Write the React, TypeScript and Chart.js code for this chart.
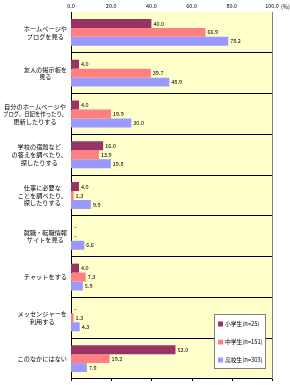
import React, { useEffect, useRef } from "react";
import { Chart, registerables } from "chart.js";
Chart.register(...registerables);

const categories: string[][] = [
  ["ホームページや", "ブログを見る"],
  ["友人の掲示板を", "見る"],
  ["自分のホームページや", "ブログ、日記を作ったり、", "更新したりする"],
  ["学校の宿題など", "の答えを調べたり、", "探したりする"],
  ["仕事に必要な", "ことを調べたり、", "探したりする"],
  ["就職・転職情報", "サイトを見る"],
  ["チャットをする"],
  ["メッセンジャーを", "利用する"],
  ["このなかにはない"],
];
const elementary: (number | null)[] = [40.0, 4.0, 4.0, 16.0, 4.0, null, 4.0, null, 52.0];
const juniorHigh: (number | null)[] = [66.9, 39.7, 19.9, 13.9, 1.3, null, 7.3, 1.3, 19.2];
const highSchool: (number | null)[] = [78.2, 48.9, 30.0, 19.8, 9.9, 6.6, 5.9, 4.3, 7.9];
const seriesNames = ["小学生(n=25)", "中学生(n=151)", "高校生(n=303)"];
const seriesColors = ["#993366", "#FF8080", "#9999FF"];
const xTicks = [0, 20, 40, 60, 80, 100];
const unitLabel = "(%)";

const FONT = '"Noto Sans CJK JP", "Noto Sans", sans-serif';

const decorPlugin = {
  id: "decor",
  beforeDraw(chart: any) {
    const { ctx, chartArea } = chart;
    ctx.save();
    ctx.fillStyle = "#FFFFCC";
    ctx.fillRect(chartArea.left, chartArea.top, chartArea.right - chartArea.left, chartArea.bottom - chartArea.top);
    ctx.restore();
  },
  afterDraw(chart: any) {
    const { ctx, chartArea } = chart;
    const xs = chart.scales.x;
    const ys = chart.scales.y;
    ctx.save();
    // right border
    ctx.strokeStyle = "#808080";
    ctx.lineWidth = 1;
    ctx.beginPath();
    ctx.moveTo(Math.round(chartArea.right) + 0.5, chartArea.top);
    ctx.lineTo(Math.round(chartArea.right) + 0.5, chartArea.bottom);
    ctx.stroke();
    // bottom ticks
    ctx.strokeStyle = "#000";
    xTicks.forEach((v) => {
      const px = Math.round(xs.getPixelForValue(v)) + 0.5;
      ctx.beginPath();
      ctx.moveTo(px, chartArea.bottom);
      ctx.lineTo(px, chartArea.bottom + 2);
      ctx.stroke();
    });
    // top tick labels
    ctx.fillStyle = "#000";
    ctx.font = `5.5px ${FONT}`;
    ctx.textAlign = "center";
    ctx.textBaseline = "middle";
    xTicks.forEach((v) => {
      ctx.fillText(v.toFixed(1), xs.getPixelForValue(v), 6);
    });
    // unit label
    ctx.textAlign = "left";
    ctx.fillText(unitLabel, xs.getPixelForValue(xTicks[xTicks.length - 1]) + 9, 7);

    // value labels
    ctx.font = `5.5px ${FONT}`;
    chart.data.datasets.forEach((ds: any, di: number) => {
      const meta = chart.getDatasetMeta(di);
      meta.data.forEach((bar: any, i: number) => {
        const v = ds.data[i];
        if (v === null || v === undefined) {
          ctx.fillText("–", xs.getPixelForValue(0) + 3, bar.y);
        } else {
          ctx.fillText(v.toFixed(1), bar.x + 2, bar.y);
        }
      });
    });

    // y category labels
    ctx.font = `6.2px ${FONT}`;
    ctx.textAlign = "center";
    const lh = 7.6;
    const maxAllowed = chartArea.left - 7;
    categories.forEach((lines, i) => {
      const cy = ys.getPixelForValue(i);
      const maxW = Math.min(maxAllowed, Math.max(...lines.map((l) => ctx.measureText(l).width)));
      const cx = chartArea.left - 4 - maxW / 2;
      const y0 = cy - ((lines.length - 1) * lh) / 2;
      lines.forEach((l, k) => ctx.fillText(l, cx, y0 + k * lh, maxAllowed));
    });

    // legend
    const bw = 51, bh = 54;
    const bx = chartArea.right - 7 - bw;
    const by = chartArea.bottom - 11 - bh;
    ctx.fillStyle = "#FFFFFF";
    ctx.fillRect(bx, by, bw, bh);
    ctx.strokeStyle = "#808080";
    ctx.strokeRect(Math.round(bx) + 0.5, Math.round(by) + 0.5, bw, bh);
    ctx.font = `5.8px ${FONT}`;
    ctx.textAlign = "left";
    seriesNames.forEach((name, k) => {
      const iy = by + 10 + k * 18;
      ctx.fillStyle = seriesColors[k];
      ctx.fillRect(bx + 4, iy - 2.5, 5, 5);
      ctx.fillStyle = "#000";
      ctx.fillText(name, bx + 11, iy, bw - 13);
    });
    ctx.restore();
  },
};

export default function App() {
  const ref = useRef<HTMLCanvasElement>(null);
  useEffect(() => {
    document.body.style.margin = "0";
    const chart = new Chart(ref.current as HTMLCanvasElement, {
      type: "bar",
      data: {
        labels: categories.map((c) => c.join("")),
        datasets: [
          { label: seriesNames[0], data: elementary, backgroundColor: seriesColors[0] },
          { label: seriesNames[1], data: juniorHigh, backgroundColor: seriesColors[1] },
          { label: seriesNames[2], data: highSchool, backgroundColor: seriesColors[2] },
        ],
      },
      options: {
        indexAxis: "y",
        animation: false,
        responsive: false,
        devicePixelRatio: 1,
        layout: { padding: { left: 0, right: 18, top: 0, bottom: 6 } },
        plugins: { legend: { display: false }, tooltip: { enabled: false } },
        datasets: { bar: { categoryPercentage: 0.66, barPercentage: 1.0 } },
        scales: {
          x: {
            position: "top",
            min: xTicks[0],
            max: xTicks[xTicks.length - 1],
            grid: { display: false },
            border: { display: false },
            ticks: { display: false },
            afterFit: (s: any) => {
              s.height = 12;
            },
          },
          y: {
            grid: {
              display: true,
              offset: true,
              drawTicks: false,
              color: (c: any) => (c.index === 0 ? "rgba(0,0,0,0)" : "#000"),
              lineWidth: 1,
            },
            border: { display: true, color: "#000", width: 1 },
            ticks: { display: false },
            afterFit: (s: any) => {
              s.width = 71;
            },
          },
        },
      } as any,
      plugins: [decorPlugin],
    });
    return () => chart.destroy();
  }, []);
  return (
    <div style={{ position: "absolute", left: 0, top: 0, width: 290, height: 385 }}>
      <canvas ref={ref} width={290} height={385} />
    </div>
  );
}
